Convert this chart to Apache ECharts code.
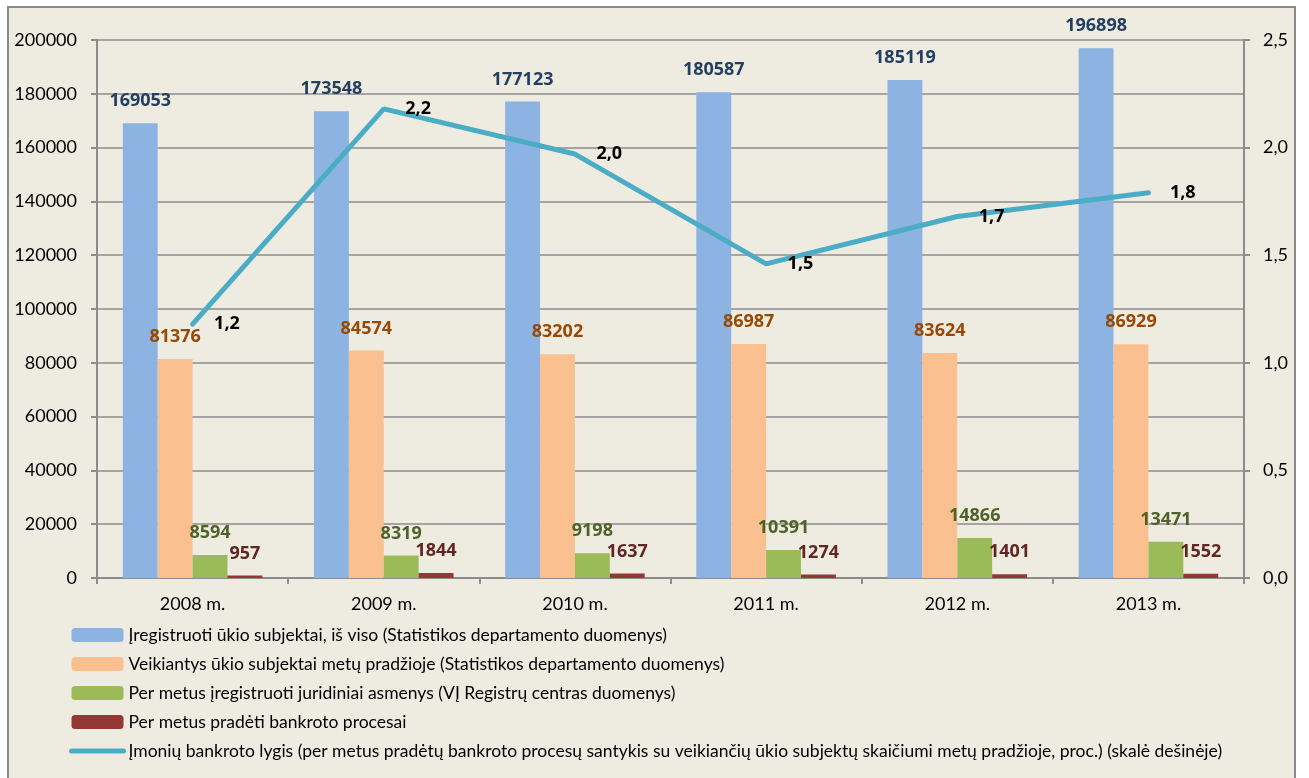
<!DOCTYPE html>
<html>
<head>
<meta charset="utf-8">
<title>Bankroto lygis</title>
<script src="https://cdn.jsdelivr.net/npm/echarts@6/dist/echarts.min.js"></script>
<style>
  body { margin: 0; background: #ffffff; }
  #frame { position: absolute; left: 7px; top: 6px; width: 1285px; height: 790px; border: 2px solid #8a8a8a; background: #eeece1; }
  #myChart { position: absolute; left: 0; top: 0; width: 1309px; height: 778px; }
</style>
</head>
<body>
<div id="frame"></div>
<div id="myChart"></div>
<script>
// metai
var years = ['2008 m.', '2009 m.', '2010 m.', '2011 m.', '2012 m.', '2013 m.'];
// stulpeliai (kairė skalė)
var registruoti = [169053, 173548, 177123, 180587, 185119, 196898];
var veikiantys = [81376, 84574, 83202, 86987, 83624, 86929];
var juridiniai = [8594, 8319, 9198, 10391, 14866, 13471];
var bankrotai = [957, 1844, 1637, 1274, 1401, 1552];
// linija (dešinė skalė)
var lygis = [1.18, 2.18, 1.97, 1.46, 1.68, 1.79];

var names = [
  'Įregistruoti ūkio subjektai, iš viso (Statistikos departamento duomenys)',
  'Veikiantys ūkio subjektai metų pradžioje (Statistikos departamento duomenys)',
  'Per metus įregistruoti juridiniai asmenys (VĮ Registrų centras duomenys)',
  'Per metus pradėti bankroto procesai',
  'Įmonių bankroto lygis (per metus pradėtų bankroto procesų santykis su veikiančių ūkio subjektų skaičiumi metų pradžioje, proc.) (skalė dešinėje)'
];

var font = 'Lato, "Open Sans", sans-serif';
var boldFont = '"Open Sans", Lato, sans-serif';
var gridColor = '#8c8c8c';

function comma(v) {
  return v.toFixed(1).replace('.', ',');
}

function barSeries(name, data, color, labelColor) {
  return {
    name: name,
    type: 'bar',
    data: data,
    barGap: '0%',
    barCategoryGap: '27%',
    itemStyle: { color: color },
    label: {
      show: true,
      position: 'top',
      distance: 13,
      color: labelColor,
      fontFamily: boldFont,
      fontWeight: 'bold',
      fontSize: 18
    }
  };
}

var myChart = echarts.init(document.getElementById('myChart'));
myChart.setOption({
  backgroundColor: 'transparent',
  animation: false,
  textStyle: { fontFamily: font },
  grid: { left: 97, right: 65, top: 40, bottom: 200 },
  legend: {
    orient: 'vertical',
    left: 64,
    top: 621,
    itemWidth: 52,
    itemHeight: 14,
    itemGap: 11,
    textStyle: { fontFamily: font, fontSize: 17.5, color: '#000' },
    data: [
      names[0], names[1], names[2], names[3],
      { name: names[4], itemStyle: { opacity: 0 }, lineStyle: { width: 5, cap: 'round' } }
    ]
  },
  xAxis: {
    type: 'category',
    data: years,
    axisLine: { lineStyle: { color: gridColor, width: 2 } },
    axisTick: { show: true, length: 6, lineStyle: { color: gridColor, width: 2 } },
    axisLabel: { color: '#000', fontSize: 18, margin: 17, fontFamily: font }
  },
  yAxis: [
    {
      type: 'value',
      min: 0,
      max: 200000,
      interval: 20000,
      axisLine: { show: true, lineStyle: { color: gridColor, width: 2 } },
      axisTick: { show: true, length: 6, lineStyle: { color: gridColor, width: 2 } },
      splitLine: { lineStyle: { color: gridColor, width: 1.5 } },
      axisLabel: {
        color: '#000', fontSize: 18, margin: 20, fontFamily: font,
        formatter: function (v) { return String(v); }
      }
    },
    {
      type: 'value',
      min: 0,
      max: 2.5,
      interval: 0.5,
      axisLine: { show: true, lineStyle: { color: gridColor, width: 2 } },
      axisTick: { show: true, length: 6, lineStyle: { color: gridColor, width: 2 } },
      splitLine: { show: false },
      axisLabel: { color: '#000', fontSize: 18, margin: 19, fontFamily: font, formatter: comma }
    }
  ],
  series: [
    barSeries(names[0], registruoti, '#8db3e2', '#243f60'),
    barSeries(names[1], veikiantys, '#fac08f', '#984807'),
    barSeries(names[2], juridiniai, '#9bbb59', '#4f6228'),
    barSeries(names[3], bankrotai, '#953735', '#632523'),
    {
      name: names[4],
      type: 'line',
      yAxisIndex: 1,
      data: lygis,
      symbol: 'circle',
      symbolSize: 1,
      showSymbol: true,
      z: 5,
      itemStyle: { color: '#4bacc6' },
      lineStyle: { color: '#4bacc6', width: 5, cap: 'round' },
      label: {
        show: true,
        position: 'right',
        distance: 21,
        color: '#000',
        fontFamily: boldFont,
        fontWeight: 'bold',
        fontSize: 18,
        formatter: function (p) { return comma(p.value); }
      }
    }
  ]
});
</script>
</body>
</html>
